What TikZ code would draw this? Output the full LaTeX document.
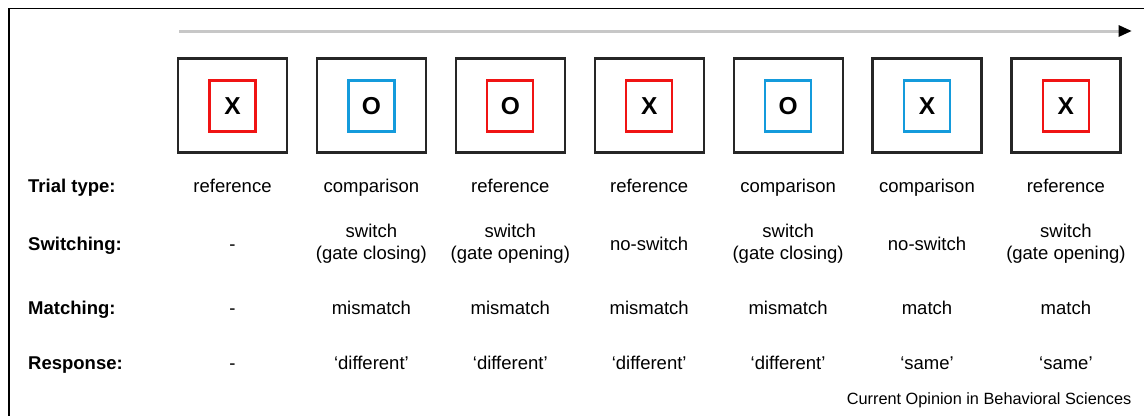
\documentclass[tikz,border=0pt]{standalone}
\usepackage{fontspec}
\setmainfont{Liberation Sans}
\begin{document}
\begin{tikzpicture}[x=1pt,y=-1pt,
  outerbox/.style={draw=black!85,line width=2.2pt,minimum width=109pt,minimum height=94pt,inner sep=0pt},
  innerred/.style={draw={rgb,255:red,240;green,20;blue,20},line width=2.2pt,minimum width=46pt,minimum height=51pt,inner sep=0pt,font=\fontsize{24.5}{28}\selectfont\bfseries},
  innerblue/.style={draw={rgb,255:red,20;green,155;blue,220},line width=2.2pt,minimum width=46pt,minimum height=51pt,inner sep=0pt,font=\fontsize{24.5}{28}\selectfont\bfseries},
  rowlab/.style={anchor=base west,inner sep=0pt,font=\fontsize{18.5}{22}\selectfont\bfseries},
  cell/.style={anchor=base,inner sep=0pt,font=\fontsize{18.5}{22}\selectfont},
  cell2/.style={anchor=center,inner sep=0pt,align=center,font=\fontsize{18.5}{22}\selectfont},
]
\useasboundingbox (0,0) rectangle (1144,416);
% frame
\coordinate (ftr) at (1144,8.5);
\coordinate (ftl) at (9,8.5);
\coordinate (fbl) at (9,416);
\draw[line width=1.6pt] (ftr) -- (ftl) -- (fbl);
% time arrow
\coordinate (as) at (179,31);
\coordinate (ae) at (1120,31);
\draw[line width=3pt,black!22] (as) -- (ae);
\fill[black] (1118.5,25) -- (1131.5,31) -- (1118.5,37) -- cycle;
% boxes
\foreach \i/\l/\c in {0/X/red,1/O/blue,2/O/red,3/X/red,4/O/blue,5/X/blue,6/X/red}{
  \node[outerbox] (ob\i) at ({232.5+138.9*\i},105.5) {};
  \node[inner\c] (ib\i) at ({232.5+138.9*\i},106) {\l};
}
% row labels
\node[rowlab] (lt) at (28,192.5) {Trial type:};
\node[rowlab] (ls) at (28,250.5) {Switching:};
\node[rowlab] (lm) at (28,314.5) {Matching:};
\node[rowlab] (lr) at (28,369) {Response:};
% trial type
\foreach \i/\t in {0/reference,1/comparison,2/reference,3/reference,4/comparison,5/comparison,6/reference}{
  \node[cell] (t\i) at ({232.5+138.9*\i},192.5) {\t};
}
% switching
\node[cell] (s0) at (232.5,250.5) {-};
\node[cell2] (s1) at ({232.5+138.9*1},244) {switch\\(gate closing)};
\node[cell2] (s2) at ({232.5+138.9*2},244) {switch\\(gate opening)};
\node[cell] (s3) at ({232.5+138.9*3},250.5) {no-switch};
\node[cell2] (s4) at ({232.5+138.9*4},244) {switch\\(gate closing)};
\node[cell] (s5) at ({232.5+138.9*5},250.5) {no-switch};
\node[cell2] (s6) at ({232.5+138.9*6},244) {switch\\(gate opening)};
% matching
\foreach \i/\t in {0/-,1/mismatch,2/mismatch,3/mismatch,4/mismatch,5/match,6/match}{
  \node[cell] (m\i) at ({232.5+138.9*\i},314.5) {\t};
}
% response
\foreach \i/\t in {0/-,1/‘different’,2/‘different’,3/‘different’,4/‘different’,5/‘same’,6/‘same’}{
  \node[cell] (r\i) at ({232.5+138.9*\i},369) {\t};
}
% footer
\node[anchor=base east,inner sep=0pt,font=\fontsize{16.3}{19}\selectfont] (foot) at (1131.5,404.5) {Current Opinion in Behavioral Sciences};
\end{tikzpicture}
\end{document}
